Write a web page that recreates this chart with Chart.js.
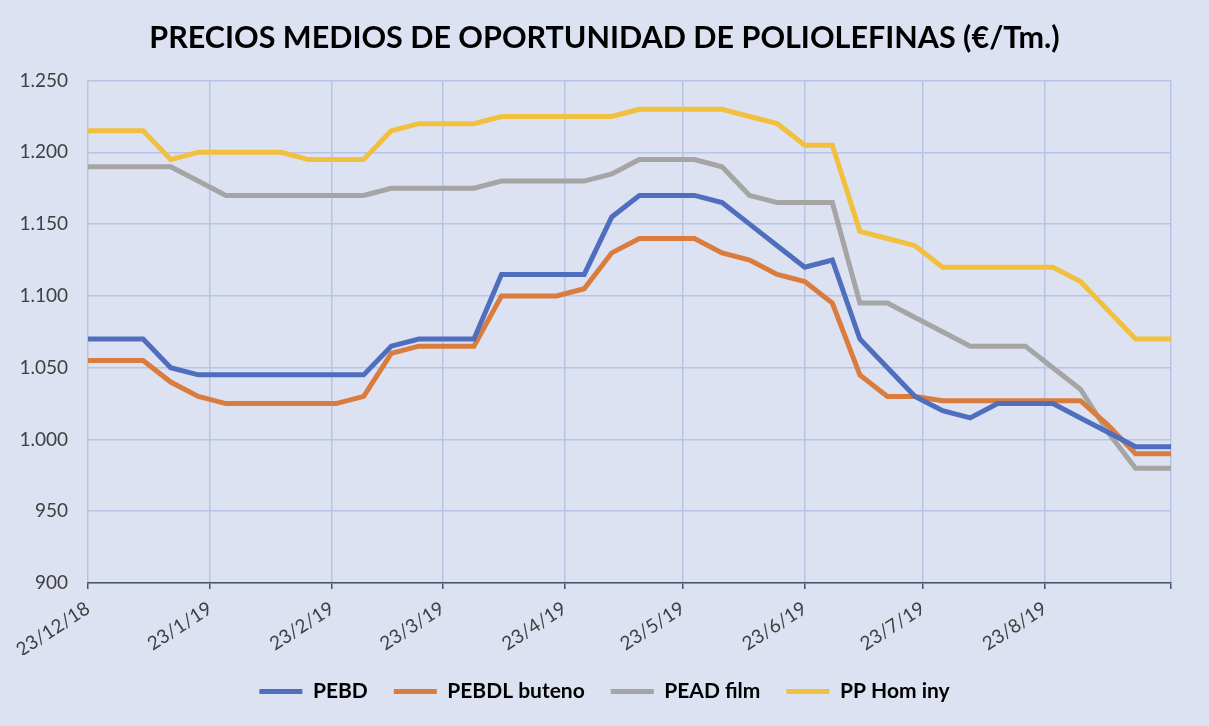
<!DOCTYPE html>
<html>
<head>
<meta charset="utf-8">
<script src="https://cdn.jsdelivr.net/npm/chart.js@4"></script>
<style>
  html, body { margin: 0; padding: 0; background: #dce2f2; }
  #wrap { width: 1209px; height: 726px; }
</style>
</head>
<body>
<div id="wrap"><canvas id="priceChart" width="1209" height="726"></canvas></div>
<script>
// Weekly quotation dates (d/m/yy)
const dates = [
    '23/12/18', '30/12/18', '6/1/19', '13/1/19', '20/1/19', '27/1/19', '3/2/19', '10/2/19',
    '17/2/19', '24/2/19', '3/3/19', '10/3/19', '17/3/19', '24/3/19', '31/3/19', '7/4/19',
    '14/4/19', '21/4/19', '28/4/19', '5/5/19', '12/5/19', '19/5/19', '26/5/19', '2/6/19',
    '9/6/19', '16/6/19', '23/6/19', '30/6/19', '7/7/19', '14/7/19', '21/7/19', '28/7/19',
    '4/8/19', '11/8/19', '18/8/19', '25/8/19', '1/9/19', '8/9/19', '15/9/19', '24/9/19'
];

// Axis labels
const tickDates = ['23/12/18', '23/1/19', '23/2/19', '23/3/19', '23/4/19', '23/5/19', '23/6/19', '23/7/19', '23/8/19'];

// Series (€/Tm.)
const pebd = [
    1070, 1070, 1070, 1050, 1045, 1045, 1045, 1045, 1045, 1045, 1045, 1065, 1070, 1070,
    1070, 1115, 1115, 1115, 1115, 1155, 1170, 1170, 1170, 1165, 1150, 1135, 1120, 1125,
    1070, 1050, 1030, 1020, 1015, 1025, 1025, 1025, 1015, 1005, 995, 995
];
const pebdlButeno = [
    1055, 1055, 1055, 1040, 1030, 1025, 1025, 1025, 1025, 1025, 1030, 1060, 1065, 1065,
    1065, 1100, 1100, 1100, 1105, 1130, 1140, 1140, 1140, 1130, 1125, 1115, 1110, 1095,
    1045, 1030, 1030, 1027, 1027, 1027, 1027, 1027, 1027, 1010, 990, 990
];
const peadFilm = [
    1190, 1190, 1190, 1190, 1180, 1170, 1170, 1170, 1170, 1170, 1170, 1175, 1175, 1175,
    1175, 1180, 1180, 1180, 1180, 1185, 1195, 1195, 1195, 1190, 1170, 1165, 1165, 1165,
    1095, 1095, 1085, 1075, 1065, 1065, 1065, 1050, 1035, 1005, 980, 980
];
const ppHomIny = [
    1215, 1215, 1215, 1195, 1200, 1200, 1200, 1200, 1195, 1195, 1195, 1215, 1220, 1220,
    1220, 1225, 1225, 1225, 1225, 1225, 1230, 1230, 1230, 1230, 1225, 1220, 1205, 1205,
    1145, 1140, 1135, 1120, 1120, 1120, 1120, 1120, 1110, 1090, 1070, 1070
];

// date string -> days since first date
function toDay(s) {
    const [d, m, y] = s.split('/').map(Number);
    return Date.UTC(2000 + y, m - 1, d) / 86400000;
}
const day0 = toDay(dates[0]);
const xDays = dates.map(s => toDay(s) - day0);
const tickDays = tickDates.map(s => toDay(s) - day0);
const xMax = xDays[xDays.length - 1];

const points = arr => arr.map((v, i) => ({ x: xDays[i], y: v }));
const fmt = v => String(v).replace(/\B(?=(\d{3})+(?!\d))/g, '.');

const series = [
    { label: 'PEBD',          values: pebd,        color: '#4f6fbe' },
    { label: 'PEBDL buteno',  values: pebdlButeno, color: '#d97c3e' },
    { label: 'PEAD film',     values: peadFilm,    color: '#a5a5a5' },
    { label: 'PP Hom iny',    values: ppHomIny,    color: '#f0c03e' }
];

const chart = new Chart(document.getElementById('priceChart'), {
    type: 'line',
    data: {
        datasets: series.map(s => ({
            label: s.label,
            data: points(s.values),
            borderColor: s.color,
            backgroundColor: s.color,
            borderWidth: 5,
            pointRadius: 0,
            tension: 0,
            fill: false
        }))
    },
    options: {
        responsive: false,
        animation: false,
        layout: { padding: { left: 0, right: 0, top: 6, bottom: 14 } },
        plugins: {
            title: {
                display: true,
                text: 'PRECIOS MEDIOS DE OPORTUNIDAD DE POLIOLEFINAS (€/Tm.)',
                color: '#000',
                font: { family: 'Lato', size: 30.5, weight: 'bold' },
                padding: { top: 14, bottom: 24 }
            },
            legend: {
                position: 'bottom',
                labels: {
                    color: '#000',
                    font: { family: 'Lato', size: 21, weight: 'bold' },
                    usePointStyle: true,
                    pointStyle: 'line',
                    pointStyleWidth: 43,
                    boxHeight: 5,
                    padding: 26
                }
            },
            tooltip: { enabled: false }
        },
        scales: {
            x: {
                type: 'linear',
                min: 0,
                max: xMax,
                afterBuildTicks: scale => {
                    scale.ticks = tickDays.concat([xMax]).map(v => ({ value: v }));
                },
                afterFit: scale => { scale.height = 72; },
                grid: {
                    color: '#b7c4e6',
                    lineWidth: 1.5,
                    tickColor: '#44546a',
                    tickLength: 6
                },
                border: { color: '#44546a', width: 1.5 },
                ticks: {
                    autoSkip: false,
                    maxRotation: 33,
                    minRotation: 33,
                    padding: 8,
                    color: '#404040',
                    font: { family: 'Lato', size: 19 },
                    callback: v => {
                        const i = tickDays.indexOf(v);
                        return i >= 0 ? tickDates[i] : '';
                    }
                }
            },
            y: {
                min: 900,
                max: 1250,
                afterFit: scale => { scale.width = 88; },
                grid: { color: '#b7c4e6', lineWidth: 1.5, drawTicks: false },
                border: { display: false },
                ticks: {
                    stepSize: 50,
                    padding: 20,
                    color: '#404040',
                    font: { family: 'Lato', size: 19 },
                    callback: v => fmt(v)
                }
            },
            // empty right-hand spacer so the title and legend stay centred on the page
            spacer: {
                position: 'right',
                min: 900,
                max: 1250,
                afterFit: scale => { scale.width = 38; },
                grid: { display: false },
                border: { display: false },
                ticks: { display: false }
            }
        }
    }
});
</script>
</body>
</html>
